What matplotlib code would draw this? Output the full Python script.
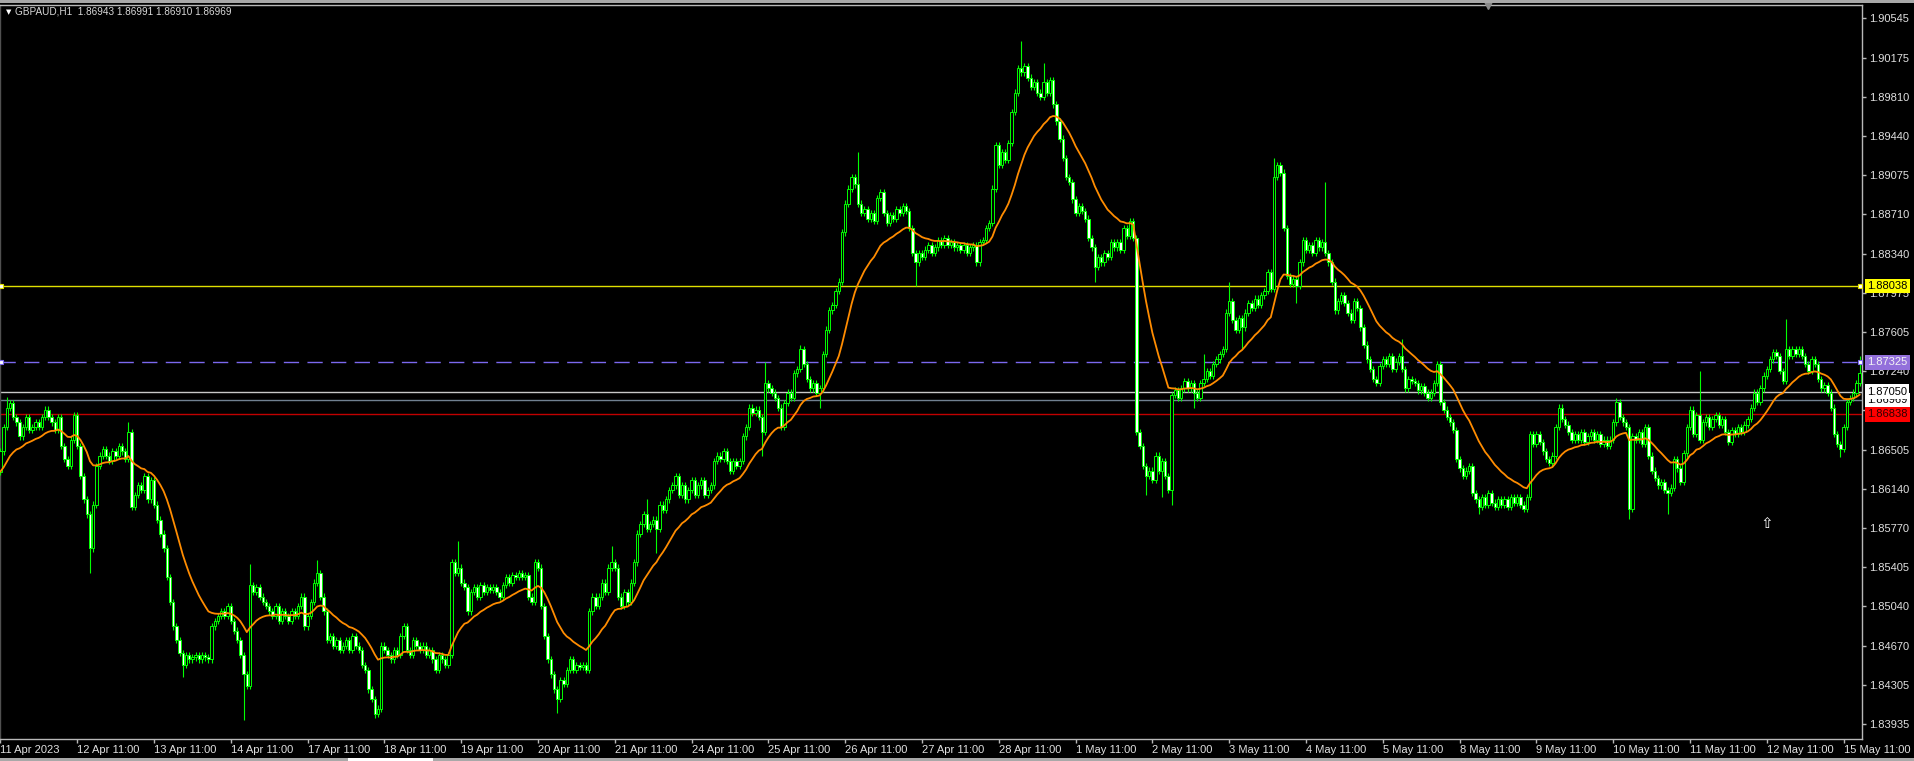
import numpy as np
import matplotlib
matplotlib.use('Agg')
import matplotlib.pyplot as plt
import matplotlib.transforms as mtransforms
from matplotlib.patches import Rectangle

plt.rcParams['font.family'] = ['Liberation Sans', 'DejaVu Sans']

# ---- data (hourly closes, bar 0 = 11 Apr 11:00) ----
closes = [
    # 11 Apr 11:00
    1.8649, 1.8672, 1.8690, 1.8694, 1.8681, 1.8676, 1.8663, 1.8672, 1.8681, 1.8669, 1.8672, 1.8676,
    1.8672, 1.8681, 1.8688, 1.8681, 1.8676, 1.8669, 1.8681, 1.8654, 1.8642, 1.8635, 1.8660, 1.8683,
    # 12 Apr
    1.8654, 1.8626, 1.8604, 1.8590, 1.8558, 1.8599, 1.8635, 1.8645, 1.8651, 1.8645, 1.8640, 1.8649,
    1.8645, 1.8654, 1.8649, 1.8642, 1.8667, 1.8597, 1.8608, 1.8617, 1.8613, 1.8626, 1.8604, 1.8622,
    # 13 Apr
    1.8599, 1.8585, 1.8572, 1.8558, 1.8531, 1.8508, 1.8485, 1.8472, 1.8460, 1.8449, 1.8458, 1.8454,
    1.8456, 1.8458, 1.8454, 1.8458, 1.8456, 1.8454, 1.8485, 1.8490, 1.8495, 1.8499, 1.8495, 1.8504,
    # 14 Apr
    1.8490, 1.8481, 1.8472, 1.8458, 1.8440, 1.8429, 1.8524, 1.8517, 1.8522, 1.8513, 1.8508, 1.8504,
    1.8499, 1.8495, 1.8504, 1.8490, 1.8499, 1.8495, 1.8490, 1.8499, 1.8495, 1.8504, 1.8513, 1.8485,
    # 17 Apr
    1.8495, 1.8508, 1.8526, 1.8535, 1.8513, 1.8499, 1.8472, 1.8476, 1.8467, 1.8472, 1.8463, 1.8467,
    1.8472, 1.8463, 1.8476, 1.8467, 1.8463, 1.8449, 1.8444, 1.8426, 1.8417, 1.8403, 1.8408, 1.8467,
    # 18 Apr
    1.8463, 1.8458, 1.8454, 1.8463, 1.8458, 1.8476, 1.8485, 1.8463, 1.8458, 1.8472, 1.8467, 1.8463,
    1.8467, 1.8458, 1.8463, 1.8454, 1.8444, 1.8458, 1.8454, 1.8449, 1.8458, 1.8545, 1.8535, 1.8540,
    # 19 Apr
    1.8526, 1.8522, 1.8499, 1.8517, 1.8522, 1.8513, 1.8524, 1.8517, 1.8522, 1.8519, 1.8522, 1.8517,
    1.8513, 1.8524, 1.8531, 1.8526, 1.8533, 1.8531, 1.8535, 1.8531, 1.8533, 1.8513, 1.8508, 1.8545,
    # 20 Apr
    1.8540, 1.8504, 1.8476, 1.8454, 1.8440, 1.8426, 1.8417, 1.8435, 1.8431, 1.8444, 1.8454, 1.8444,
    1.8449, 1.8447, 1.8449, 1.8444, 1.8499, 1.8513, 1.8504, 1.8513, 1.8526, 1.8517, 1.8540, 1.8545,
    # 21 Apr
    1.8540, 1.8513, 1.8504, 1.8517, 1.8508, 1.8526, 1.8545, 1.8572, 1.8581, 1.8590, 1.8576, 1.8581,
    1.8585, 1.8576, 1.8599, 1.8594, 1.8604, 1.8613, 1.8617, 1.8626, 1.8608, 1.8617, 1.8604, 1.8613,
    # 24 Apr
    1.8622, 1.8608, 1.8617, 1.8622, 1.8608, 1.8613, 1.8617, 1.8640, 1.8645, 1.8642, 1.8649, 1.8640,
    1.8631, 1.8640, 1.8635, 1.8640, 1.8663, 1.8672, 1.8690, 1.8685, 1.8688, 1.8681, 1.8667, 1.8713,
    # 25 Apr
    1.8708, 1.8704, 1.8699, 1.8690, 1.8672, 1.8694, 1.8704, 1.8699, 1.8722, 1.8726, 1.8745, 1.8731,
    1.8717, 1.8708, 1.8713, 1.8704, 1.8708, 1.8740, 1.8763, 1.8781, 1.8786, 1.8799, 1.8808, 1.8854,
    # 26 Apr
    1.8881, 1.8895, 1.8906, 1.8899, 1.8881, 1.8872, 1.8876, 1.8867, 1.8872, 1.8865, 1.8886, 1.8892,
    1.8872, 1.8863, 1.8870, 1.8867, 1.8876, 1.8872, 1.8879, 1.8874, 1.8858, 1.8835, 1.8826, 1.8835,
    # 27 Apr
    1.8831, 1.8838, 1.8842, 1.8835, 1.8840, 1.8847, 1.8842, 1.8849, 1.8842, 1.8845, 1.8840, 1.8842,
    1.8838, 1.8842, 1.8835, 1.8840, 1.8842, 1.8826, 1.8845, 1.8847, 1.8858, 1.8863, 1.8895, 1.8936,
    # 28 Apr
    1.8917, 1.8929, 1.8922, 1.8938, 1.8967, 1.8985, 1.9008, 1.9004, 1.9010, 1.8999, 1.8990, 1.8995,
    1.8985, 1.8981, 1.8995, 1.8985, 1.8997, 1.8974, 1.8958, 1.8942, 1.8924, 1.8906, 1.8901, 1.8885,
    # 1 May
    1.8872, 1.8879, 1.8874, 1.8867, 1.8849, 1.8840, 1.8822, 1.8831, 1.8826, 1.8835, 1.8831, 1.8845,
    1.8840, 1.8845, 1.8838, 1.8858, 1.8851, 1.8865, 1.8849, 1.8667, 1.8654, 1.8635, 1.8626, 1.8631,
    # 2 May
    1.8622, 1.8645, 1.8631, 1.8640, 1.8626, 1.8613, 1.8702, 1.8706, 1.8699, 1.8708, 1.8715, 1.8708,
    1.8713, 1.8704, 1.8699, 1.8713, 1.8717, 1.8724, 1.8720, 1.8731, 1.8735, 1.8740, 1.8745, 1.8779,
    # 3 May
    1.8790, 1.8772, 1.8763, 1.8774, 1.8765, 1.8779, 1.8788, 1.8783, 1.8792, 1.8786, 1.8795, 1.8799,
    1.8817, 1.8801, 1.8906, 1.8917, 1.8910, 1.8858, 1.8813, 1.8806, 1.8810, 1.8804, 1.8826, 1.8847,
    # 4 May
    1.8838, 1.8842, 1.8835, 1.8847, 1.8840, 1.8845, 1.8835, 1.8826, 1.8808, 1.8781, 1.8790, 1.8795,
    1.8788, 1.8779, 1.8772, 1.8790, 1.8783, 1.8765, 1.8749, 1.8735, 1.8726, 1.8717, 1.8713, 1.8729,
    # 5 May
    1.8735, 1.8731, 1.8738, 1.8726, 1.8733, 1.8738, 1.8726, 1.8708, 1.8717, 1.8715, 1.8713, 1.8706,
    1.8710, 1.8704, 1.8699, 1.8704, 1.8713, 1.8731, 1.8695, 1.8688, 1.8681, 1.8676, 1.8669, 1.8642,
    # 8 May
    1.8633, 1.8626, 1.8631, 1.8635, 1.8610, 1.8604, 1.8597, 1.8606, 1.8599, 1.8610, 1.8601, 1.8597,
    1.8604, 1.8599, 1.8604, 1.8597, 1.8606, 1.8601, 1.8606, 1.8599, 1.8595, 1.8606, 1.8665, 1.8656,
    # 9 May
    1.8665, 1.8658, 1.8649, 1.8642, 1.8638, 1.8645, 1.8672, 1.8690, 1.8679, 1.8674, 1.8667, 1.8660,
    1.8665, 1.8660, 1.8667, 1.8658, 1.8663, 1.8667, 1.8660, 1.8665, 1.8656, 1.8660, 1.8654, 1.8660,
    # 10 May
    1.8676, 1.8695, 1.8681, 1.8676, 1.8672, 1.8595, 1.8663, 1.8660, 1.8667, 1.8656, 1.8672, 1.8645,
    1.8631, 1.8624, 1.8617, 1.8620, 1.8613, 1.8610, 1.8615, 1.8642, 1.8633, 1.8620, 1.8647, 1.8672,
    # 11 May
    1.8688, 1.8665, 1.8683, 1.8660, 1.8676, 1.8681, 1.8672, 1.8679, 1.8683, 1.8674, 1.8679, 1.8667,
    1.8658, 1.8669, 1.8665, 1.8672, 1.8667, 1.8674, 1.8679, 1.8690, 1.8704, 1.8695, 1.8708, 1.8720,
    # 12 May
    1.8726, 1.8735, 1.8742, 1.8738, 1.8724, 1.8715, 1.8745, 1.8738, 1.8745, 1.8740, 1.8745, 1.8738,
    1.8731, 1.8724, 1.8735, 1.8731, 1.8717, 1.8708, 1.8711, 1.8704, 1.8690, 1.8665, 1.8656, 1.8651,
    # 15 May
    1.8672, 1.8695, 1.8699, 1.8704, 1.8713, 1.8722,
]
first_open = 1.8630

# long wicks that stand out on the chart: bar index -> price
high_spikes = {2: 1.8700, 40: 1.8676, 78: 1.8543, 99: 1.8547, 143: 1.8565, 191: 1.8560,
               202: 1.8604, 239: 1.8733, 250: 1.8749, 268: 1.8929, 319: 1.9033, 326: 1.9013,
               376: 1.8740, 384: 1.8808, 398: 1.8924, 414: 1.8901, 438: 1.8754, 505: 1.8699,
               531: 1.8724, 558: 1.8773, 581: 1.8738}
low_spikes = {28: 1.8535, 57: 1.8438, 76: 1.8397, 117: 1.8399, 174: 1.8404, 205: 1.8554,
              238: 1.8645, 256: 1.8690, 286: 1.8804, 342: 1.8808, 358: 1.8608, 363: 1.8606,
              366: 1.8599, 373: 1.8690, 388: 1.8745, 405: 1.8788, 462: 1.8590, 509: 1.8586,
              521: 1.8590, 575: 1.8644}
wick = 0.0003

ma_period = 20
ma_seed = 1.8628   # value of the orange MA at the left edge

price_ticks = [1.90545, 1.90175, 1.89810, 1.89440, 1.89075, 1.88710, 1.88340, 1.87975,
               1.87605, 1.87240, 1.86875, 1.86505, 1.86140, 1.85770, 1.85405, 1.85040,
               1.84670, 1.84305, 1.83935]
day_labels = ['11 Apr 2023', '12 Apr 11:00', '13 Apr 11:00', '14 Apr 11:00', '17 Apr 11:00',
              '18 Apr 11:00', '19 Apr 11:00', '20 Apr 11:00', '21 Apr 11:00', '24 Apr 11:00',
              '25 Apr 11:00', '26 Apr 11:00', '27 Apr 11:00', '28 Apr 11:00', '1 May 11:00',
              '2 May 11:00', '3 May 11:00', '4 May 11:00', '5 May 11:00', '8 May 11:00',
              '9 May 11:00', '10 May 11:00', '11 May 11:00', '12 May 11:00', '15 May 11:00']
bars_per_day = 24

yellow_level = 1.88038
purple_level = 1.87325
white_level = 1.87050
bid_level = 1.86969
red_level = 1.86838

title_text = 'GBPAUD,H1  1.86943 1.86991 1.86910 1.86969'
arrow_bar, arrow_price = 552, 1.8581

# ---- OHLC + EMA ----
c = np.array(closes)
o = np.r_[first_open, c[:-1]]
hi = np.maximum(o, c) + wick
lo = np.minimum(o, c) - wick
for k, v in high_spikes.items():
    if k < len(c):
        hi[k] = v
for k, v in low_spikes.items():
    if k < len(c):
        lo[k] = v

alpha = 2.0 / (ma_period + 1)
ema = np.empty_like(c)
prev = ma_seed
for i, v in enumerate(c):
    prev = prev + alpha * (v - prev)
    ema[i] = prev

x = np.arange(len(c))

# ---- figure ----
W, H = 1915, 761
fig = plt.figure(figsize=(W / 100, H / 100), dpi=100, facecolor='black')
ax = fig.add_axes([0, 22 / H, 1862 / W, 734 / H], facecolor='black')

ax.set_xlim(-0.125, 581.75)
ax.set_ylim(1.837953, 1.906705)

# candles
ax.vlines(x, lo, hi, color='#00ff00', linewidth=0.8, zorder=3)
bull = c >= o
ax.bar(x, np.abs(c - o), bottom=np.minimum(o, c), width=0.72,
       color=np.where(bull, 'black', 'white'), edgecolor='#00ff00', linewidth=0.7, zorder=4)

# moving average
ax.plot(x, ema, color='#ff8c00', linewidth=1.3, zorder=5)

# horizontal lines
ax.axhline(yellow_level, color='#e0e000', linewidth=1.0, zorder=2)
ax.axhline(purple_level, color='#7b68ee', linewidth=1.0, dashes=(11, 6), zorder=2)
ax.axhline(white_level, color='#c8c8c8', linewidth=1.0, zorder=2)
ax.axhline(bid_level, color='#708090', linewidth=1.0, zorder=2)
ax.axhline(red_level, color='#c00000', linewidth=1.0, zorder=2)

x0, x1 = ax.get_xlim()
for lvl, col in [(yellow_level, '#e0e000'), (purple_level, '#7b68ee')]:
    ax.plot([x0 + 0.4, x1 - 0.6], [lvl, lvl], linestyle='none', marker='s', markersize=3.2,
            markerfacecolor='white', markeredgecolor=col, markeredgewidth=0.8,
            clip_on=False, zorder=6)

# object arrow
ax.text(arrow_bar, arrow_price, '\u21e7', color='white', fontsize=11, ha='center', va='center',
        family=['DejaVu Sans'], zorder=6)

# chart-shift marker at the top
ax.plot([465], [1.0], marker='v', markersize=6, color='#8a8a8a', linestyle='none',
        transform=mtransforms.blended_transform_factory(ax.transData, ax.transAxes),
        clip_on=False, zorder=7)

# axes styling
for side, sp in ax.spines.items():
    sp.set_color('#b8b8b8')
    sp.set_linewidth(1.0)
ax.spines['left'].set_color('#505050')

ax.yaxis.tick_right()
ax.set_yticks(price_ticks)
ax.set_yticklabels(['%.5f' % p for p in price_ticks])
ax.tick_params(axis='y', colors='#b8b8b8', labelcolor='#e0e0e0', length=3, width=1,
               pad=2, labelsize=8, direction='out')

ticks_x = [k * bars_per_day for k in range(len(day_labels))]
ax.set_xticks(ticks_x)
ax.set_xticklabels(day_labels)
ax.tick_params(axis='x', colors='#b8b8b8', labelcolor='#e0e0e0', length=3, width=1,
               pad=1.5, labelsize=8, direction='out')
for lab in ax.get_xticklabels():
    lab.set_horizontalalignment('left')

# price tags on the right axis
tag = mtransforms.blended_transform_factory(ax.transAxes, ax.transData)
tx = 1.0 + 5 / 1862
for lvl, face, fg in [(bid_level, 'white', 'black'), (white_level, 'white', 'black'),
                      (red_level, '#ff0000', '#300000'), (purple_level, '#9370db', '#f4f4f4'),
                      (yellow_level, '#ffff00', 'black')]:
    ax.text(tx, lvl, '%.5f' % lvl, transform=tag, fontsize=8, color=fg, ha='left', va='center',
            bbox=dict(boxstyle='square,pad=0.22', facecolor=face, edgecolor='none'),
            clip_on=False, zorder=10)

# title line
fig.text(6 / W, 1 - 12 / H, '\u25bc', fontsize=5, color='white', va='center', ha='left',
         family=['DejaVu Sans'])
fig.text(15 / W, 1 - 12 / H, title_text, fontsize=7.2, color='#d8d8d8', va='center', ha='left')

# window frame strips
fig.patches.append(Rectangle((0, 1 - 3 / H), 1, 3 / H, transform=fig.transFigure,
                             facecolor='#a8a8a8', edgecolor='none'))
fig.patches.append(Rectangle((0, 0), 1, 3 / H, transform=fig.transFigure,
                             facecolor='#a8a8a8', edgecolor='none'))
fig.patches.append(Rectangle((348 / W, 0), 85 / W, 3 / H, transform=fig.transFigure,
                             facecolor='white', edgecolor='none'))

fig.savefig('out.png', dpi=100, facecolor='black')
